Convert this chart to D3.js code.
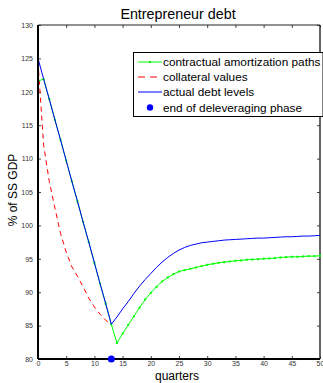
<!DOCTYPE html>
<html>
<head>
<meta charset="utf-8">
<script src="https://cdn.jsdelivr.net/npm/d3@7"></script>
<style>
  body { margin: 0; background: #fff; }
  svg { display: block; font-family: "Liberation Sans", Arial, sans-serif; }
</style>
</head>
<body>
<svg id="chart"></svg>
<script>
/* data */
const quarters = d3.range(0, 51);
const xTicks = [0, 5, 10, 15, 20, 25, 30, 35, 40, 45, 50];
const yTicks = [80, 85, 90, 95, 100, 105, 110, 115, 120, 125, 130];

/* contractual amortization paths (green, dotted markers) */
const contractual = [121.6, 121.9, 118.9, 115.8, 112.8, 109.7, 106.6, 103.6, 100.5, 97.5,
  94.4, 91.3, 88.3, 85.2, 82.4, 83.8, 85.1, 86.4, 87.7, 88.9,
  89.9, 90.8, 91.6, 92.2, 92.7, 93.1, 93.3, 93.5, 93.7, 93.9,
  94.1, 94.25, 94.4, 94.5, 94.6, 94.7, 94.75, 94.85, 94.9, 94.95,
  95.0, 95.05, 95.1, 95.2, 95.25, 95.3, 95.3, 95.35, 95.4, 95.4, 95.45];

/* collateral values (red dashed), only during deleveraging */
const collateralQ = d3.range(0, 14);
const collateral = [124.5, 112.0, 106.6, 102.6, 98.8, 96.0, 93.8, 92.4, 90.8, 89.1,
  87.8, 86.7, 85.8, 85.2];

/* actual debt levels (blue) */
const actual = [125.0, 121.9, 118.9, 115.8, 112.8, 109.7, 106.6, 103.6, 100.5, 97.5,
  94.4, 91.3, 88.3, 85.2, 86.3, 87.5, 88.6, 89.8, 90.9, 91.9,
  92.8, 93.7, 94.5, 95.2, 95.8, 96.3, 96.7, 97.0, 97.2, 97.4,
  97.5, 97.6, 97.7, 97.8, 97.85, 97.9, 97.95, 98.0, 98.05, 98.1,
  98.1, 98.15, 98.2, 98.25, 98.3, 98.3, 98.35, 98.4, 98.4, 98.45, 98.5];

/* end of deleveraging phase */
const endQuarter = 13;
const endValue = 80;

const legendLabels = ["contractual amortization paths", "collateral values",
  "actual debt levels", "end of deleveraging phase"];

/* layout */
const width = 323, height = 383;
const margin = {top: 25, right: 3, bottom: 24, left: 38};
const plotW = width - margin.left - margin.right;
const plotH = height - margin.top - margin.bottom;

const svg = d3.select("#chart").attr("width", width).attr("height", height);

const x = d3.scaleLinear().domain([0, 50]).range([margin.left, margin.left + plotW]);
const y = d3.scaleLinear().domain([80, 130]).range([margin.top + plotH, margin.top]);

/* axes with inward ticks, on all four sides */
const tickCol = "#333";
function styleAxis(g) {
  g.select(".domain").remove();
  g.selectAll(".tick line").attr("stroke", "#444").attr("stroke-width", 1);
  g.selectAll(".tick text").attr("fill", tickCol).style("font-size", "7px");
}

svg.append("g")
  .attr("transform", "translate(0," + (margin.top + plotH) + ")")
  .call(d3.axisBottom(x).tickValues(xTicks).tickSizeInner(-3).tickSizeOuter(0).tickPadding(2.5))
  .call(styleAxis);
svg.append("g")
  .attr("transform", "translate(0," + margin.top + ")")
  .call(d3.axisTop(x).tickValues(xTicks).tickSizeInner(-3).tickSizeOuter(0).tickFormat(""))
  .call(styleAxis);
svg.append("g")
  .attr("transform", "translate(" + margin.left + ",0)")
  .call(d3.axisLeft(y).tickValues(yTicks).tickSizeInner(-3).tickSizeOuter(0).tickPadding(5))
  .call(styleAxis);
svg.append("g")
  .attr("transform", "translate(" + (margin.left + plotW) + ",0)")
  .call(d3.axisRight(y).tickValues(yTicks).tickSizeInner(-3).tickSizeOuter(0).tickFormat(""))
  .call(styleAxis);

/* box */
svg.append("line").attr("x1", x(0)).attr("x2", x(50)).attr("y1", y(130)).attr("y2", y(130))
  .attr("stroke", "#222").attr("stroke-width", 1);
svg.append("line").attr("x1", x(50)).attr("x2", x(50)).attr("y1", y(130)).attr("y2", y(80))
  .attr("stroke", "#333").attr("stroke-width", 1.5);

/* lines */
const line = d3.line().x(d => x(d[0])).y(d => y(d[1]));

svg.append("path")
  .datum(collateralQ.map((q, i) => [q, collateral[i]]))
  .attr("d", line)
  .attr("fill", "none").attr("stroke", "#ff0000").attr("stroke-width", 1)
  .attr("stroke-dasharray", "5,4");

svg.append("path")
  .datum(quarters.map((q, i) => [q, contractual[i]]))
  .attr("d", line)
  .attr("fill", "none").attr("stroke", "#00ff00").attr("stroke-width", 1);

svg.append("g").selectAll("rect")
  .data(quarters.map((q, i) => [q, contractual[i]]))
  .join("rect")
  .attr("x", d => x(d[0]) - 1).attr("y", d => y(d[1]) - 1)
  .attr("width", 2).attr("height", 2)
  .attr("fill", "#00ff00");

svg.append("path")
  .datum(quarters.map((q, i) => [q, actual[i]]))
  .attr("d", line)
  .attr("fill", "none").attr("stroke", "#0000ff").attr("stroke-width", 1);

/* left and bottom axis lines drawn over the data */
svg.append("line").attr("x1", x(0)).attr("x2", x(0)).attr("y1", y(130)).attr("y2", y(80))
  .attr("stroke", "#000").attr("stroke-width", 2);
svg.append("line").attr("x1", x(0)).attr("x2", x(50)).attr("y1", y(80)).attr("y2", y(80))
  .attr("stroke", "#000").attr("stroke-width", 2);

svg.append("circle")
  .attr("cx", x(endQuarter)).attr("cy", y(endValue)).attr("r", 3.5)
  .attr("fill", "#0000ff");

/* labels */
svg.append("text")
  .attr("x", 178).attr("y", 18.5)
  .attr("text-anchor", "middle")
  .style("font-size", "14.3px")
  .text("Entrepreneur debt");

svg.append("text")
  .attr("x", 177).attr("y", 379.5)
  .attr("text-anchor", "middle")
  .style("font-size", "12px")
  .text("quarters");

svg.append("text")
  .attr("transform", "translate(17," + 190 + ") rotate(-90)")
  .attr("text-anchor", "middle")
  .style("font-size", "12px")
  .text("% of SS GDP");

/* legend */
const legend = svg.append("g").attr("transform", "translate(133,52)");
legend.append("rect")
  .attr("x", 0.5).attr("y", 0.5).attr("width", 189.5).attr("height", 64)
  .attr("fill", "#fff").attr("stroke", "#000").attr("stroke-width", 1);

const rowY = [10, 25, 40, 55.5];
legendLabels.forEach((label, i) => {
  const g = legend.append("g").attr("transform", "translate(0," + rowY[i] + ")");
  if (i === 0) {
    g.append("line").attr("x1", 5).attr("x2", 29).attr("stroke", "#00ff00").attr("stroke-width", 1);
    g.append("rect").attr("x", 16).attr("y", -1).attr("width", 2).attr("height", 2).attr("fill", "#00ff00");
  } else if (i === 1) {
    g.append("line").attr("x1", 5).attr("x2", 29).attr("stroke", "#ff0000").attr("stroke-width", 1)
      .attr("stroke-dasharray", "7,5");
  } else if (i === 2) {
    g.append("line").attr("x1", 5).attr("x2", 29).attr("stroke", "#0000ff").attr("stroke-width", 1);
  } else {
    g.append("circle").attr("cx", 17).attr("cy", 0).attr("r", 3.2).attr("fill", "#0000ff");
  }
  g.append("text")
    .attr("x", 30).attr("y", 0).attr("dy", "0.35em")
    .style("font-size", "11.8px")
    .text(label);
});
</script>
</body>
</html>
